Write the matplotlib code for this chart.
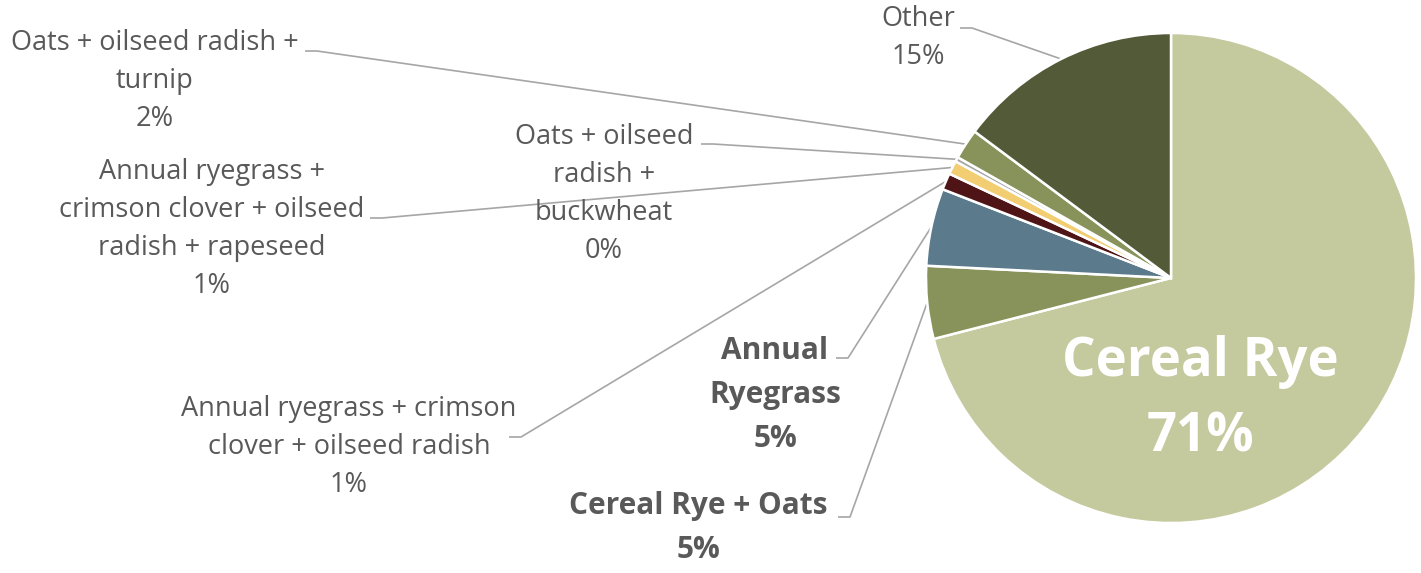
import matplotlib
matplotlib.use('Agg')
import matplotlib.pyplot as plt
import numpy as np

# share of cover crop mixes (percent)
mixes = ['Cereal Rye', 'Cereal Rye + Oats', 'Annual Ryegrass',
         'Annual ryegrass + crimson clover + oilseed radish',
         'Annual ryegrass + crimson clover + oilseed radish + rapeseed',
         'Oats + oilseed radish + buckwheat',
         'Oats + oilseed radish + turnip',
         'Other']
shares = [71.0, 4.8, 5.1, 1.1, 0.9, 0.3, 2.0, 14.8]
colors = ['#C5C99E', '#87935A', '#5B7A8C', '#4E1416', '#F2CD72', '#A6A6A6', '#87935A', '#525A37']

# label text as it is wrapped on the chart
label_lines = [
    ['Cereal Rye'],
    ['Cereal Rye + Oats'],
    ['Annual', 'Ryegrass'],
    ['Annual ryegrass + crimson', 'clover + oilseed radish'],
    ['Annual ryegrass +', 'crimson clover + oilseed', 'radish + rapeseed'],
    ['Oats + oilseed', 'radish +', 'buckwheat'],
    ['Oats + oilseed radish +', 'turnip'],
    ['Other'],
]
bold = [True, True, True, False, False, False, False, False]

W, H = 1421, 573
fig = plt.figure(figsize=(W / 100, H / 100), dpi=100)
ax = fig.add_axes([0, 0, 1, 1])

cx, cy, r = 1171, H - 278, 245
wedges, _ = ax.pie(shares, colors=colors, startangle=90, counterclock=False,
                   center=(cx, cy), radius=r,
                   wedgeprops=dict(edgecolor='white', linewidth=1.8))

ax.set_xlim(0, W)
ax.set_ylim(0, H)
ax.set_aspect('equal')
ax.axis('off')

txt = '#595959'
line_col = '#A6A6A6'

# text block centres and leader start (pixel coords, y from top)
text_pos = [(1200, 400), (698, 528), (775, 395), (349, 447),
            (212, 229), (604, 194), (155, 81), (918, 38)]
leader_start = [None, (838, 517), (836, 358), (509, 437),
                (370, 218), (701, 144), (305, 51), (960, 28)]

for i, w in enumerate(wedges):
    pct = '%d%%' % round(shares[i])
    text = '\n'.join(label_lines[i] + [pct])
    tx, ty = text_pos[i]
    if i == 0:
        ax.text(tx, H - ty, text, ha='center', va='center', color='white',
                fontsize=38, fontweight='bold', family='Open Sans', linespacing=1.52)
        continue
    if bold[i]:
        ax.text(tx, H - ty, text, ha='center', va='center', color=txt,
                fontsize=21.5, fontweight='bold', family='Open Sans', linespacing=1.62)
    else:
        ax.text(tx, H - ty, text, ha='center', va='center', color=txt,
                fontsize=19.5, family='Open Sans', linespacing=1.47)
    # leader line to the middle of the wedge edge
    ang = np.deg2rad((w.theta1 + w.theta2) / 2)
    ex, ey = cx + r * np.cos(ang), cy + r * np.sin(ang)
    sx, sy = leader_start[i]
    ax.plot([sx, sx + 12, ex], [H - sy, H - sy, ey], color=line_col, lw=1.2,
            solid_capstyle='butt', zorder=0)

fig.savefig('out.png', dpi=100)
